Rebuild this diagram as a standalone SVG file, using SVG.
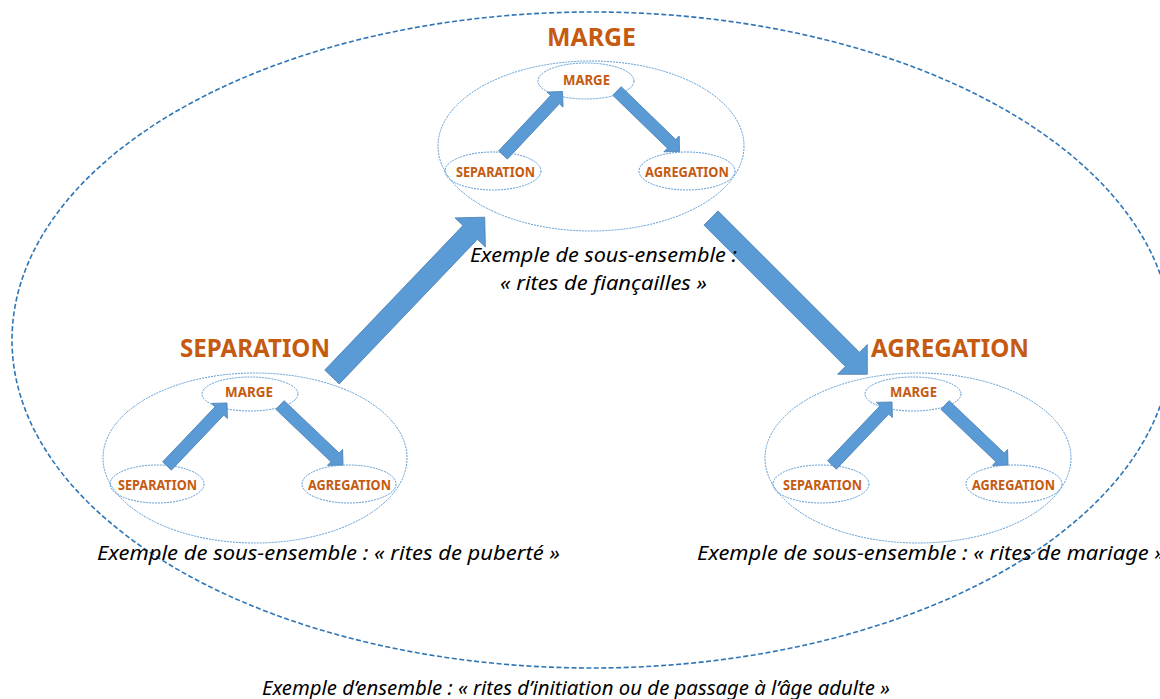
<svg xmlns="http://www.w3.org/2000/svg" width="1160" height="699" viewBox="0 0 1160 699">
<style>
.outer{fill:none;stroke:#2E75B6;stroke-width:1.6;stroke-dasharray:5 2.5}
.grp{fill:none;stroke:#5B9BD5;stroke-width:1;stroke-dasharray:2 1}
.arr{fill:#5B9BD5;stroke:#4A7FB5;stroke-width:0.8}
.title{font-family:"Noto Sans","Open Sans","DejaVu Sans",sans-serif;font-weight:bold;font-size:25px;fill:#C55A11;text-anchor:middle}
.lab{font-family:"Noto Sans","Open Sans","DejaVu Sans",sans-serif;font-weight:bold;font-size:13.5px;fill:#C55A11;text-anchor:middle}
.ex{font-family:"Noto Sans","Open Sans","DejaVu Sans",sans-serif;font-style:italic;font-size:20px;fill:#000}
</style>
<defs>
<polygon id="bigL" points="0,-10 200,-10 200,-21 221,0 200,21 200,10 0,10"/>
<polygon id="small" points="0,-6 76,-6 76,-11 87,0 76,11 76,6 0,6"/>
</defs>
<rect width="1160" height="699" fill="#fff"/>
<g id="connectors">
  <use href="#bigL" class="arr" transform="translate(332,377) rotate(-46.3)"/>
  <use href="#bigL" class="arr" transform="translate(711,218) rotate(45)"/>
  <use href="#small" class="arr" transform="translate(503,155) rotate(-46.8)"/>
  <use href="#small" class="arr" transform="translate(617,91) rotate(44.1)"/>
  <use href="#small" class="arr" transform="translate(167,466) rotate(-46.4)"/>
  <use href="#small" class="arr" transform="translate(280,405) rotate(43.6)"/>
  <use href="#small" class="arr" transform="translate(832,465) rotate(-46.4)"/>
  <use href="#small" class="arr" transform="translate(945,405) rotate(43.6)"/>
</g>
<g id="ensemble">
  <ellipse class="outer" cx="592" cy="340" rx="580" ry="328"/>
  <text class="ex" x="262" y="695" textLength="628" lengthAdjust="spacingAndGlyphs">Exemple d’ensemble : « rites d’initiation ou de passage à l’âge adulte »</text>
</g>
<g id="marge">
  <text class="title" x="591.5" y="46" textLength="89" lengthAdjust="spacingAndGlyphs">MARGE</text>
  <ellipse class="grp" cx="591" cy="146" rx="153" ry="85"/>
  <ellipse class="grp" cx="586" cy="81" rx="48" ry="18"/>
  <text class="lab" x="586.5" y="85" textLength="47" lengthAdjust="spacingAndGlyphs">MARGE</text>
  <ellipse class="grp" cx="493" cy="171" rx="48" ry="19"/>
  <text class="lab" x="495.5" y="177" textLength="79" lengthAdjust="spacingAndGlyphs">SEPARATION</text>
  <ellipse class="grp" cx="687" cy="171" rx="48" ry="19"/>
  <text class="lab" x="687" y="177" textLength="84" lengthAdjust="spacingAndGlyphs">AGREGATION</text>
  <text class="ex" x="470" y="262" textLength="267" lengthAdjust="spacingAndGlyphs">Exemple de sous-ensemble :</text>
  <text class="ex" x="500" y="290" textLength="207" lengthAdjust="spacingAndGlyphs">« rites de fiançailles »</text>
</g>
<g id="separation">
  <text class="title" x="255" y="357" textLength="150" lengthAdjust="spacingAndGlyphs">SEPARATION</text>
  <ellipse class="grp" cx="255" cy="458" rx="152" ry="85"/>
  <ellipse class="grp" cx="250" cy="394" rx="48" ry="17"/>
  <text class="lab" x="249" y="397" textLength="48" lengthAdjust="spacingAndGlyphs">MARGE</text>
  <ellipse class="grp" cx="157" cy="484" rx="47" ry="19"/>
  <text class="lab" x="157.5" y="490" textLength="79" lengthAdjust="spacingAndGlyphs">SEPARATION</text>
  <ellipse class="grp" cx="349" cy="484" rx="47" ry="19"/>
  <text class="lab" x="349.5" y="490" textLength="83" lengthAdjust="spacingAndGlyphs">AGREGATION</text>
  <text class="ex" x="97" y="560" textLength="463" lengthAdjust="spacingAndGlyphs">Exemple de sous-ensemble : « rites de puberté »</text>
</g>
<g id="agregation">
  <text class="title" x="950" y="357" textLength="158" lengthAdjust="spacingAndGlyphs">AGREGATION</text>
  <ellipse class="grp" cx="918" cy="458" rx="153" ry="85"/>
  <ellipse class="grp" cx="913" cy="394" rx="48" ry="17"/>
  <text class="lab" x="913.5" y="397" textLength="47" lengthAdjust="spacingAndGlyphs">MARGE</text>
  <ellipse class="grp" cx="821" cy="484" rx="48" ry="19"/>
  <text class="lab" x="822.5" y="490" textLength="79" lengthAdjust="spacingAndGlyphs">SEPARATION</text>
  <ellipse class="grp" cx="1014" cy="484" rx="48" ry="19"/>
  <text class="lab" x="1013.5" y="490" textLength="83" lengthAdjust="spacingAndGlyphs">AGREGATION</text>
  <text class="ex" x="697" y="560" textLength="468" lengthAdjust="spacingAndGlyphs">Exemple de sous-ensemble : « rites de mariage »</text>
</g>
</svg>
